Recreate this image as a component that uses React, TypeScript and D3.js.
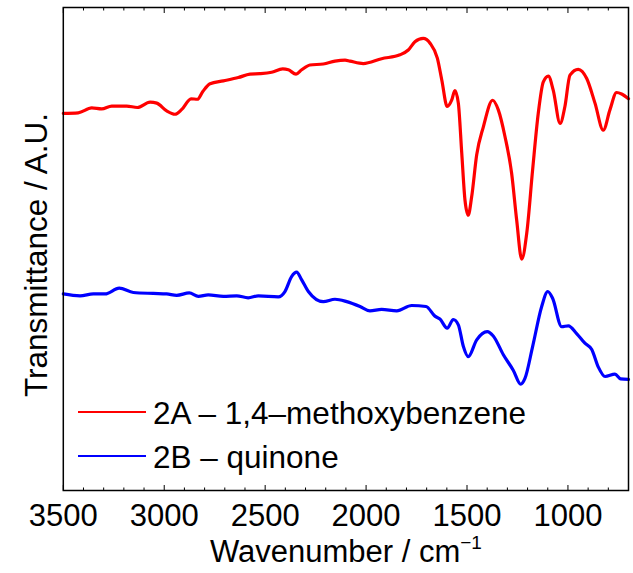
import React from 'react';
import * as d3 from 'd3';

const redWavenumber = [3500,3426,3359,3310,3260,3186,3133,3070,3037,2988,2947,2913,2867,2836,2809,2773,2707,2633,2575,2526,2468,2413,2385,2347,2319,2278,2212,2154,2104,2080,2014,1923,1832,1791,1758,1717,1683,1647,1625,1598,1576,1560,1543,1526,1510,1494,1477,1452,1419,1373,1345,1312,1279,1254,1229,1204,1175,1147,1122,1097,1073,1039,1015,990,949,907,866,825,792,759,734,700];
const redValue = [78.1,78.2,79.2,79.0,79.6,79.6,79.3,80.4,80.2,78.6,77.9,78.9,81.1,81.0,82.6,84.2,84.8,85.5,86.2,86.3,86.6,87.3,87.1,86.2,87.1,88.1,88.3,88.9,89.1,88.9,88.4,89.4,90.2,91.2,92.9,93.6,92.6,89.5,85.0,79.5,80.8,82.8,80.2,69.8,60.1,57.0,60.8,69.5,75.3,80.8,78.8,73.3,65.7,56.0,47.9,53.3,66.4,78.1,84.6,85.8,82.9,76.0,79.5,86.0,87.2,85.3,80.2,74.6,78.8,82.4,82.1,81.1];

const blueWavenumber = [3500,3417,3351,3293,3223,3153,3054,2988,2938,2876,2831,2782,2707,2641,2584,2534,2435,2402,2369,2344,2319,2286,2212,2154,2096,2030,1981,1923,1848,1774,1703,1659,1634,1598,1568,1543,1518,1494,1452,1400,1370,1320,1271,1234,1213,1175,1130,1100,1076,1031,998,957,916,882,850,816,767,739,700];
const blueValue = [40.7,40.3,40.7,40.7,41.9,41.0,40.8,40.7,40.4,40.9,40.2,40.5,40.2,40.3,39.9,40.3,40.1,41.2,44.3,45.2,43.6,41.2,39.1,39.6,39.1,38.1,37.2,37.5,37.2,38.3,38.1,36.1,35.5,33.6,35.4,34.3,29.8,27.7,31.2,32.9,32.0,28.1,24.9,22.0,23.2,29.8,38.1,41.2,39.8,33.9,34.1,32.5,30.5,29.2,25.6,23.6,24.1,23.1,23.0];

const seriesLabels = ['2A \u2013 1,4\u2013methoxybenzene', '2B \u2013 quinone'];
const seriesColors = ['#ff0000', '#0000ff'];
const majorTicks = [3500, 3000, 2500, 2000, 1500, 1000];
const minorTicks = d3.range(3500, 699, -100);
const xDomain = [3500, 700];
const yDomain = [0, 100];

const W = 633, H = 573;
const L = 63.3, R = 628.5, T = 7.5, B = 490.5;
const FONT = '"Liberation Sans", Arial, Helvetica, sans-serif';

export default function App() {
  const x = d3.scaleLinear().domain(xDomain).range([L, R]);
  const y = d3.scaleLinear().domain(yDomain).range([B, T]);
  const line = d3.line<[number, number]>()
    .x(d => x(d[0]))
    .y(d => y(d[1]))
    .curve(d3.curveMonotoneX);
  const series = [
    redWavenumber.map((w, i) => [w, redValue[i]] as [number, number]),
    blueWavenumber.map((w, i) => [w, blueValue[i]] as [number, number]),
  ];
  const fs = 31;
  return (
    <svg width={W} height={H} style={{ position: 'fixed', left: 0, top: 0, background: '#fff' }} fontFamily={FONT}>
      <rect x={0} y={0} width={W} height={H} fill="#fff" />
      {series.map((s, i) => (
        <path key={i} d={line(s) || ''} fill="none" stroke={seriesColors[i]} strokeWidth={3.2} strokeLinejoin="round" strokeLinecap="round" />
      ))}
      {minorTicks.map(t => {
        const major = majorTicks.includes(t);
        const len = major ? 5.5 : 3;
        return (
          <g key={t}>
            <line x1={x(t)} x2={x(t)} y1={B} y2={B - len} stroke="#000" strokeWidth={1} />
            <line x1={x(t)} x2={x(t)} y1={T} y2={T + len} stroke="#000" strokeWidth={1} />
          </g>
        );
      })}
      <rect x={L} y={T} width={R - L} height={B - T} fill="none" stroke="#000" strokeWidth={1.5} />
      {majorTicks.map(t => (
        <text key={t} x={x(t)} y={526} textAnchor="middle" fontSize={fs} fill="#000">{t}</text>
      ))}
      <text x={(L + R) / 2} y={562} textAnchor="middle" fontSize={fs} fill="#000">
        Wavenumber / cm<tspan dy={-13} fontSize={19}>{'\u22121'}</tspan>
      </text>
      <text transform={`translate(47, 255) rotate(-90)`} textAnchor="middle" fontSize={31.5} fill="#000">Transmittance / A.U.</text>
      {seriesLabels.map((lab, i) => (
        <g key={lab}>
          <line x1={78} x2={146} y1={412 + i * 44} y2={412 + i * 44} stroke={seriesColors[i]} strokeWidth={2} />
          <text x={153} y={423.5 + i * 44} fontSize={31.5} fill="#000">{lab}</text>
        </g>
      ))}
    </svg>
  );
}
